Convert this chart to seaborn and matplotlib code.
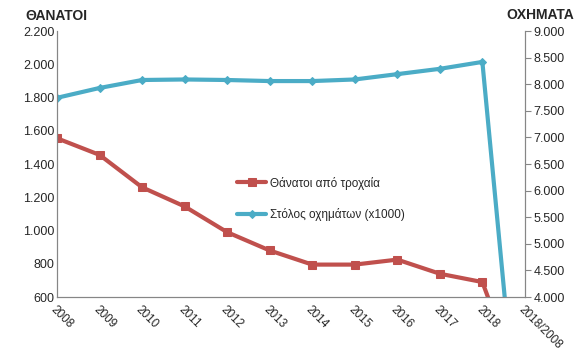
import numpy as np
import pandas as pd
import matplotlib
matplotlib.use('Agg')
import matplotlib.pyplot as plt
import matplotlib.ticker as mticker
import seaborn as sns

years = ['2008', '2009', '2010', '2011', '2012', '2013', '2014', '2015',
	'2016', '2017', '2018', '2018/2008']
deaths = [1555, 1455, 1260, 1145, 990, 880, 795, 795, 825, 740, 690, -0.556]
fleet = [7745, 7930, 8080, 8090, 8080, 8060, 8060, 8090, 8190, 8290, 8420, 0.085]

red = '#C0504D'
cyan = '#4BACC6'

sns.set_style('white')
plt.rcParams['font.family'] = ['Liberation Sans', 'DejaVu Sans']

df = pd.DataFrame({'pos': np.arange(len(years)), 'year': years,
	'deaths': deaths, 'fleet': fleet})

fig = plt.figure(figsize=(5.8, 3.53), dpi=100)
ax = fig.add_axes([0.0983, 0.1586, 0.8067, 0.7534])
ax2 = ax.twinx()

sns.lineplot(data=df, x='pos', y='deaths', ax=ax, color=red, lw=3,
	marker='s', markersize=6, markeredgecolor=red, sort=False,
	label='Θάνατοι από τροχαία', legend=False)
sns.lineplot(data=df, x='pos', y='fleet', ax=ax2, color=cyan, lw=3,
	marker='D', markersize=4, markeredgecolor=cyan, sort=False,
	label='Στόλος οχημάτων (x1000)', legend=False)

ax.set_xlim(0, len(years) - 1)
ax.set_ylim(600, 2200)
ax2.set_ylim(4000, 9000)
ax.set_yticks(np.arange(600, 2201, 200))
ax2.set_yticks(np.arange(4000, 9001, 500))

fmt = mticker.FuncFormatter(lambda v, p: '{:,.0f}'.format(v).replace(',', '.'))
ax.yaxis.set_major_formatter(fmt)
ax2.yaxis.set_major_formatter(fmt)

ax.set_xticks(df['pos'])
ax.set_xticklabels(years, rotation=-45, ha='left', va='top',
	rotation_mode='anchor')
ax.set_xlabel('')
ax.set_ylabel('')
ax2.set_ylabel('')

for a in (ax, ax2):
	for s in a.spines.values():
		s.set_color('#868686')
	a.spines['top'].set_visible(False)
ax.tick_params(axis='y', labelsize=9, length=0, pad=2)
ax.tick_params(axis='x', labelsize=8.5, length=0, pad=5)
ax2.tick_params(axis='y', labelsize=9, length=4, color='#868686', pad=2)

fig.text(0.043, 0.955, 'ΘΑΝΑΤΟΙ', fontsize=10, fontweight='bold', va='center')
fig.text(0.873, 0.958, 'ΟΧΗΜΑΤΑ', fontsize=10, fontweight='bold', va='center')

h1, l1 = ax.get_legend_handles_labels()
h2, l2 = ax2.get_legend_handles_labels()
ax2.legend(h1 + h2, l1 + l2, loc='upper left', frameon=False, fontsize=8.5,
	bbox_to_anchor=(0.39, 0.53), bbox_transform=fig.transFigure,
	labelspacing=1.6, handlelength=2.5, handletextpad=0.3)

fig.savefig('out.png', dpi=100)
